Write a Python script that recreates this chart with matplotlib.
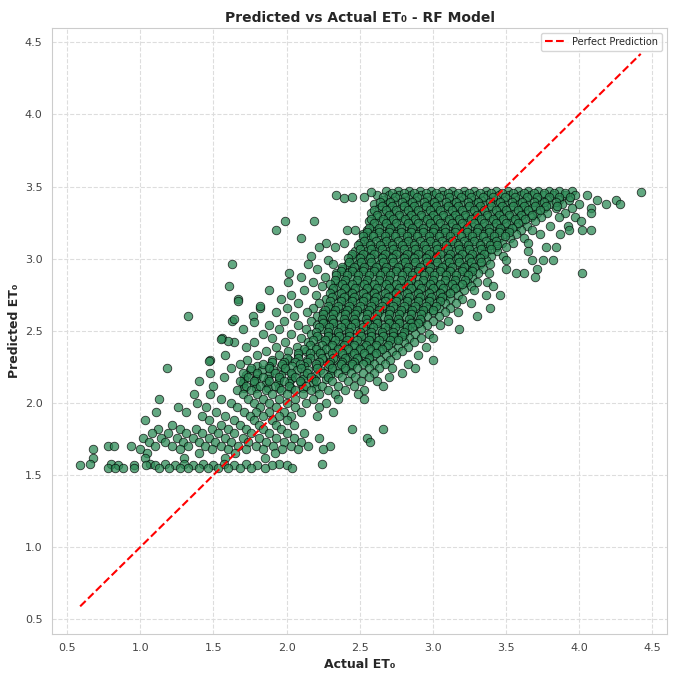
import numpy as np
import matplotlib
matplotlib.use('Agg')
import matplotlib.pyplot as plt
import seaborn as sns

# Predicted ET0 level -> actual ET0 values, row by row
cap_rows = [
    (3.47, [2.68, 2.76, 2.84, 2.91, 2.99, 3.06, 3.13, 3.21, 3.28, 3.36, 3.43, 3.51, 3.58, 3.65, 3.72, 3.79, 3.86, 3.95]),
    (3.44, [2.62, 2.70, 2.77, 2.85, 2.92, 3.00, 3.07, 3.15, 3.22, 3.30, 3.37, 3.45, 3.52, 3.60, 3.67, 3.75, 3.82, 3.90, 3.97, 4.05]),
    (3.41, [2.66, 2.73, 2.81, 2.88, 2.96, 3.03, 3.11, 3.18, 3.26, 3.33, 3.41, 3.48, 3.56, 3.63, 3.71, 3.78, 3.86, 3.93, 4.12, 4.25]),
    (3.38, [2.60, 2.68, 2.75, 2.83, 2.90, 2.98, 3.05, 3.13, 3.20, 3.28, 3.35, 3.43, 3.50, 3.58, 3.65, 3.73, 3.80, 3.88, 4.00, 4.18, 4.28]),
    (3.35, [2.63, 2.71, 2.78, 2.86, 2.93, 3.01, 3.08, 3.16, 3.23, 3.31, 3.38, 3.46, 3.53, 3.61, 3.68, 3.76, 3.84, 3.95, 4.08]),
    (3.32, [2.58, 2.66, 2.73, 2.81, 2.88, 2.96, 3.03, 3.11, 3.18, 3.26, 3.33, 3.41, 3.48, 3.56, 3.63, 3.71, 3.78, 3.90, 4.08]),
    (3.29, [2.62, 2.69, 2.77, 2.84, 2.92, 2.99, 3.07, 3.14, 3.22, 3.29, 3.37, 3.44, 3.52, 3.59, 3.67, 3.74, 3.86, 3.97]),
    (3.26, [1.99, 2.19, 2.56, 2.64, 2.71, 2.79, 2.86, 2.94, 3.01, 3.09, 3.16, 3.24, 3.31, 3.39, 3.46, 3.54, 3.61, 3.70, 4.01]),
    (3.23, [2.59, 2.67, 2.74, 2.82, 2.89, 2.97, 3.04, 3.12, 3.19, 3.27, 3.34, 3.42, 3.49, 3.57, 3.64, 3.80, 3.92]),
    (3.20, [1.93, 2.41, 2.47, 2.55, 2.62, 2.70, 2.77, 2.85, 2.92, 3.00, 3.07, 3.15, 3.22, 3.30, 3.37, 3.45, 3.52, 3.60, 3.68, 3.93, 4.02, 4.08]),
    (3.17, [2.52, 2.59, 2.67, 2.74, 2.82, 2.89, 2.97, 3.04, 3.12, 3.19, 3.27, 3.34, 3.42, 3.49, 3.57, 3.73, 3.87]),
    (3.14, [2.10, 2.55, 2.63, 2.70, 2.78, 2.85, 2.93, 3.00, 3.08, 3.15, 3.23, 3.30, 3.38, 3.45, 3.53, 3.62]),
    (3.11, [2.27, 2.39, 2.50, 2.57, 2.65, 2.72, 2.80, 2.87, 2.95, 3.02, 3.10, 3.17, 3.25, 3.32, 3.40, 3.47, 3.55, 3.65]),
    (3.08, [2.22, 2.33, 2.53, 2.60, 2.68, 2.75, 2.83, 2.90, 2.98, 3.05, 3.13, 3.20, 3.28, 3.35, 3.43, 3.50, 3.77, 3.84]),
]

body_rows = [
    (3.05, [2.47, 2.55, 2.62, 2.70, 2.77, 2.85, 2.92, 3.00, 3.07, 3.15, 3.22, 3.30, 3.37, 3.44, 3.65]),
    (3.02, [2.17, 2.44, 2.51, 2.58, 2.66, 2.73, 2.81, 2.88, 2.96, 3.03, 3.11, 3.18, 3.26, 3.33, 3.40, 3.48]),
    (2.99, [2.28, 2.46, 2.53, 2.61, 2.68, 2.76, 2.83, 2.91, 2.98, 3.06, 3.13, 3.21, 3.28, 3.36, 3.50, 3.68, 3.75, 3.82]),
    (2.96, [1.63, 2.15, 2.32, 2.42, 2.49, 2.57, 2.64, 2.72, 2.79, 2.87, 2.94, 3.02, 3.09, 3.17, 3.24, 3.32, 3.39]),
    (2.93, [2.21, 2.38, 2.45, 2.52, 2.60, 2.67, 2.75, 2.82, 2.90, 2.97, 3.05, 3.12, 3.20, 3.27, 3.34, 3.50, 3.71]),
    (2.90, [2.02, 2.34, 2.41, 2.48, 2.56, 2.63, 2.71, 2.78, 2.86, 2.93, 3.01, 3.08, 3.16, 3.23, 3.31, 3.38, 3.57, 3.62, 4.02]),
    (2.87, [2.10, 2.26, 2.37, 2.44, 2.52, 2.59, 2.67, 2.74, 2.82, 2.89, 2.97, 3.04, 3.12, 3.19, 3.27, 3.70]),
    (2.84, [2.01, 2.18, 2.33, 2.40, 2.48, 2.55, 2.63, 2.70, 2.78, 2.85, 2.93, 3.00, 3.08, 3.15, 3.23, 3.30, 3.37]),
    (2.81, [1.61, 2.24, 2.36, 2.43, 2.51, 2.58, 2.66, 2.73, 2.81, 2.88, 2.96, 3.03, 3.11, 3.18, 3.26, 3.41]),
    (2.78, [1.88, 2.12, 2.31, 2.39, 2.46, 2.54, 2.61, 2.69, 2.76, 2.84, 2.91, 2.99, 3.06, 3.14, 3.21, 3.28]),
    (2.75, [2.03, 2.20, 2.34, 2.42, 2.49, 2.57, 2.64, 2.72, 2.79, 2.87, 2.94, 3.02, 3.09, 3.17, 3.36, 3.46]),
    (2.72, [1.67, 1.96, 2.27, 2.37, 2.45, 2.52, 2.60, 2.67, 2.75, 2.82, 2.90, 2.97, 3.05, 3.12, 3.20]),
    (2.69, [2.08, 2.22, 2.33, 2.41, 2.48, 2.56, 2.63, 2.71, 2.78, 2.86, 2.93, 3.01, 3.08, 3.16, 3.26]),
    (2.66, [1.82, 2.00, 2.18, 2.29, 2.37, 2.44, 2.52, 2.59, 2.67, 2.74, 2.82, 2.89, 2.97, 3.04, 3.12, 3.39]),
    (2.63, [1.93, 2.14, 2.25, 2.33, 2.40, 2.48, 2.55, 2.63, 2.70, 2.78, 2.85, 2.93, 3.00, 3.08, 3.17]),
    (2.60, [1.33, 1.77, 2.05, 2.21, 2.29, 2.36, 2.44, 2.51, 2.59, 2.66, 2.74, 2.81, 2.89, 2.96, 3.04, 3.30]),
    (2.57, [1.63, 1.98, 2.17, 2.25, 2.32, 2.40, 2.47, 2.55, 2.62, 2.70, 2.77, 2.85, 2.92, 3.00, 3.10]),
    (2.54, [1.88, 2.08, 2.21, 2.28, 2.36, 2.43, 2.51, 2.58, 2.66, 2.73, 2.81, 2.88, 2.96, 3.05]),
    (2.51, [1.70, 1.95, 2.13, 2.24, 2.32, 2.39, 2.47, 2.54, 2.62, 2.69, 2.77, 2.84, 2.92, 3.18]),
    (2.48, [1.84, 2.03, 2.17, 2.28, 2.35, 2.43, 2.50, 2.58, 2.65, 2.73, 2.80, 2.88, 2.97]),
    (2.45, [1.56, 1.90, 2.10, 2.22, 2.31, 2.39, 2.46, 2.54, 2.61, 2.69, 2.76, 2.84, 2.92, 3.00]),
    (2.42, [1.64, 1.78, 1.99, 2.15, 2.27, 2.35, 2.42, 2.50, 2.57, 2.65, 2.72, 2.80, 2.87]),
    (2.39, [1.72, 1.93, 2.07, 2.20, 2.31, 2.38, 2.46, 2.53, 2.61, 2.68, 2.76, 2.83, 2.95]),
    (2.36, [1.86, 2.01, 2.13, 2.24, 2.34, 2.42, 2.49, 2.57, 2.64, 2.72, 2.79]),
    (2.33, [1.58, 1.80, 1.95, 2.08, 2.19, 2.29, 2.38, 2.45, 2.53, 2.60, 2.68, 2.75, 2.90]),
    (2.30, [1.48, 1.73, 1.90, 2.02, 2.14, 2.25, 2.33, 2.41, 2.49, 2.56, 2.64, 2.71, 3.00]),
]

# second, staggered pass over the dark core where markers pile up
core_rows = [
    (3.455, [2.72, 2.80, 2.87, 2.95, 3.02, 3.10, 3.17, 3.25, 3.32, 3.40, 3.47, 3.55, 3.62, 3.69, 3.76, 3.83, 3.90]),
    (3.425, [2.66, 2.74, 2.81, 2.89, 2.96, 3.04, 3.11, 3.19, 3.26, 3.34, 3.41, 3.49, 3.56, 3.64, 3.71, 3.79, 3.86, 3.94]),
    (3.395, [2.64, 2.71, 2.79, 2.86, 2.94, 3.01, 3.09, 3.16, 3.24, 3.31, 3.39, 3.46, 3.54, 3.61, 3.69, 3.76, 3.84]),
    (3.365, [2.65, 2.72, 2.80, 2.87, 2.95, 3.02, 3.10, 3.17, 3.25, 3.32, 3.40, 3.47, 3.55, 3.62, 3.70, 3.77, 3.85]),
    (3.335, [2.60, 2.68, 2.75, 2.83, 2.90, 2.98, 3.05, 3.13, 3.20, 3.28, 3.35, 3.43, 3.50, 3.58, 3.65, 3.73]),
    (3.305, [2.62, 2.70, 2.77, 2.85, 2.92, 3.00, 3.07, 3.15, 3.22, 3.30, 3.37, 3.45, 3.52, 3.60, 3.68]),
    (3.275, [2.58, 2.66, 2.73, 2.81, 2.88, 2.96, 3.03, 3.11, 3.18, 3.26, 3.33, 3.41, 3.48, 3.56, 3.63]),
    (3.245, [2.60, 2.68, 2.75, 2.83, 2.90, 2.98, 3.05, 3.13, 3.20, 3.28, 3.35, 3.43, 3.50, 3.58]),
    (3.215, [2.56, 2.63, 2.71, 2.78, 2.86, 2.93, 3.01, 3.08, 3.16, 3.23, 3.31, 3.38, 3.46, 3.54]),
    (3.185, [2.55, 2.63, 2.70, 2.78, 2.85, 2.93, 3.00, 3.08, 3.15, 3.23, 3.30, 3.38, 3.45, 3.52]),
    (3.155, [2.52, 2.59, 2.67, 2.74, 2.82, 2.89, 2.97, 3.04, 3.12, 3.19, 3.27, 3.34, 3.42, 3.49]),
    (3.125, [2.53, 2.61, 2.68, 2.76, 2.83, 2.91, 2.98, 3.06, 3.13, 3.21, 3.28, 3.36, 3.43]),
    (3.095, [2.49, 2.57, 2.64, 2.72, 2.79, 2.87, 2.94, 3.02, 3.09, 3.17, 3.24, 3.32, 3.39, 3.44]),
    (3.065, [2.50, 2.58, 2.65, 2.73, 2.80, 2.88, 2.95, 3.03, 3.10, 3.18, 3.25, 3.33, 3.40]),
    (3.035, [2.45, 2.52, 2.60, 2.67, 2.75, 2.82, 2.90, 2.97, 3.05, 3.12, 3.20, 3.27, 3.35]),
    (3.005, [2.42, 2.50, 2.57, 2.65, 2.72, 2.80, 2.87, 2.95, 3.02, 3.10, 3.17, 3.25, 3.32]),
    (2.975, [2.43, 2.51, 2.58, 2.66, 2.73, 2.81, 2.88, 2.96, 3.03, 3.11, 3.18, 3.26, 3.33]),
    (2.945, [2.38, 2.46, 2.53, 2.61, 2.68, 2.76, 2.83, 2.91, 2.98, 3.06, 3.13, 3.21, 3.28]),
    (2.915, [2.37, 2.45, 2.52, 2.60, 2.67, 2.75, 2.82, 2.90, 2.97, 3.05, 3.12, 3.20, 3.27]),
    (2.885, [2.34, 2.41, 2.49, 2.56, 2.64, 2.71, 2.79, 2.86, 2.94, 3.01, 3.09, 3.16, 3.24]),
    (2.855, [2.33, 2.40, 2.48, 2.55, 2.63, 2.70, 2.78, 2.85, 2.93, 3.00, 3.08, 3.15, 3.22]),
    (2.825, [2.30, 2.38, 2.45, 2.53, 2.60, 2.68, 2.75, 2.83, 2.90, 2.98, 3.05, 3.13, 3.20]),
    (2.795, [2.32, 2.40, 2.47, 2.55, 2.62, 2.70, 2.77, 2.85, 2.92, 3.00, 3.07, 3.15]),
    (2.765, [2.30, 2.37, 2.45, 2.52, 2.60, 2.67, 2.75, 2.82, 2.90, 2.97, 3.05, 3.12]),
    (2.735, [2.31, 2.39, 2.46, 2.54, 2.61, 2.69, 2.76, 2.84, 2.91, 2.99, 3.06]),
    (2.705, [2.30, 2.37, 2.45, 2.52, 2.60, 2.67, 2.75, 2.82, 2.90, 2.97, 3.05]),
    (2.675, [2.28, 2.35, 2.43, 2.50, 2.58, 2.65, 2.73, 2.80, 2.88, 2.95, 3.02]),
    (2.645, [2.26, 2.33, 2.41, 2.48, 2.56, 2.63, 2.71, 2.78, 2.86, 2.93, 3.00]),
    (2.615, [2.25, 2.32, 2.40, 2.47, 2.55, 2.62, 2.70, 2.77, 2.85, 2.92]),
    (2.585, [2.24, 2.31, 2.39, 2.46, 2.54, 2.61, 2.69, 2.76, 2.84, 2.91]),
    (2.555, [2.25, 2.32, 2.40, 2.47, 2.55, 2.62, 2.70, 2.77, 2.85, 2.90]),
    (2.525, [2.22, 2.29, 2.37, 2.44, 2.52, 2.59, 2.67, 2.74, 2.82, 2.86]),
    (2.495, [2.20, 2.28, 2.35, 2.43, 2.50, 2.58, 2.65, 2.73, 2.80]),
    (2.465, [2.21, 2.28, 2.36, 2.43, 2.51, 2.58, 2.66, 2.73, 2.79]),
    (2.435, [2.18, 2.26, 2.33, 2.41, 2.48, 2.56, 2.63, 2.71, 2.76]),
    (2.405, [2.16, 2.24, 2.31, 2.39, 2.46, 2.54, 2.61, 2.69]),
    (2.375, [2.12, 2.20, 2.27, 2.35, 2.42, 2.50, 2.57, 2.65]),
    (2.345, [2.08, 2.16, 2.23, 2.31, 2.38, 2.46, 2.53, 2.61]),
    (2.315, [2.00, 2.08, 2.16, 2.24, 2.32, 2.40, 2.48, 2.56]),
    (2.285, [1.90, 1.98, 2.06, 2.14, 2.22, 2.30, 2.38, 2.46, 2.54]),
    (2.255, [1.80, 1.88, 1.96, 2.04, 2.12, 2.20, 2.28, 2.36, 2.44]),
    (2.225, [1.75, 1.83, 1.91, 1.99, 2.07, 2.15, 2.23, 2.31, 2.40]),
    (2.195, [1.72, 1.80, 1.88, 1.96, 2.04, 2.12, 2.20, 2.30]),
    (2.165, [1.71, 1.79, 1.87, 1.95, 2.03, 2.11, 2.19, 2.27]),
    (2.135, [1.70, 1.78, 1.86, 1.94, 2.02, 2.10, 2.18]),
    (2.105, [1.71, 1.79, 1.87, 1.95, 2.03, 2.11, 2.20]),
]

lower_rows = [
    (2.27, [1.68, 1.84, 1.97, 2.09, 2.20, 2.29, 2.37, 2.45, 2.52, 2.60, 2.67, 2.83]),
    (2.24, [1.18, 1.62, 1.76, 1.88, 1.99, 2.10, 2.21, 2.31, 2.40, 2.48, 2.56, 2.63, 2.72, 2.88]),
    (2.21, [1.48, 1.70, 1.80, 1.92, 2.03, 2.14, 2.25, 2.35, 2.44, 2.52, 2.60, 2.79]),
    (2.18, [1.57, 1.74, 1.84, 1.95, 2.06, 2.17, 2.28, 2.38, 2.47, 2.56, 2.70]),
    (2.15, [1.40, 1.68, 1.78, 1.88, 1.98, 2.09, 2.20, 2.31, 2.42, 2.51, 2.62]),
    (2.12, [1.50, 1.72, 1.82, 1.92, 2.02, 2.13, 2.24, 2.35, 2.46, 2.66]),
    (2.09, [1.66, 1.76, 1.86, 1.96, 2.06, 2.17, 2.28, 2.40, 2.53]),
    (2.06, [1.37, 1.48, 1.70, 1.80, 1.90, 2.00, 2.11, 2.22, 2.33, 2.49]),
    (2.03, [1.13, 1.55, 1.74, 1.84, 1.95, 2.06, 2.18, 2.35, 2.53]),
    (2.00, [1.39, 1.62, 1.78, 1.88, 2.00, 2.13, 2.27]),
    (1.97, [1.26, 1.45, 1.66, 1.82, 1.93, 2.06, 2.22]),
    (1.94, [1.11, 1.31, 1.52, 1.71, 1.79, 1.88, 1.98, 2.10, 2.32]),
    (1.91, [1.42, 1.58, 1.75, 1.84, 1.95, 2.03, 2.21]),
    (1.88, [1.03, 1.47, 1.64, 1.78, 1.90, 2.00]),
    (1.85, [1.22, 1.55, 1.68, 1.81, 1.93, 2.05]),
    (1.82, [1.12, 1.27, 1.38, 1.49, 1.60, 1.72, 1.84, 1.96, 2.45, 2.66]),
    (1.79, [1.08, 1.19, 1.31, 1.42, 1.53, 1.64, 1.76, 1.88, 2.00, 2.12]),
    (1.76, [1.02, 1.14, 1.25, 1.36, 1.47, 1.58, 1.70, 1.81, 1.93, 2.05, 2.22, 2.55]),
    (1.73, [1.06, 1.17, 1.29, 1.40, 1.51, 1.62, 1.74, 1.86, 1.98, 2.10, 2.57]),
    (1.70, [0.78, 0.82, 0.94, 1.10, 1.22, 1.33, 1.44, 1.55, 1.67, 1.79, 1.91, 2.03, 2.15, 2.30]),
    (1.68, [0.68, 1.00, 1.27, 1.49, 1.60, 1.72, 1.84, 1.97, 2.08, 2.25]),
    (1.65, [1.05, 1.40, 1.65, 1.92]),
    (1.62, [0.68, 1.03, 1.30, 1.58, 1.85]),
]

bottom_rows = [
    (1.58, [0.66, 0.80, 1.07, 1.17, 1.30, 1.43, 1.57, 1.72, 1.95, 2.24]),
    (1.57, [0.59, 0.85, 0.96, 1.04, 1.10, 1.24, 1.36, 1.50, 1.64, 1.80, 1.90, 2.00]),
    (1.55, [0.78, 0.83, 0.88, 0.96, 1.13, 1.20, 1.27, 1.33, 1.40, 1.46, 1.53, 1.60, 1.68, 1.76, 1.85, 2.04]),
]

# a few loose points off the main rows
extra_actual = [2.34, 2.39, 2.45, 2.53, 2.58, 4.42, 1.64, 1.67, 1.78, 1.82, 1.47, 1.60, 1.55]
extra_predicted = [3.44, 3.42, 3.43, 3.43, 3.46, 3.46, 2.58, 2.71, 2.56, 2.67, 2.29, 2.43, 2.44]

actual = []
predicted = []
for rows in (cap_rows, body_rows, core_rows, lower_rows, bottom_rows):
    for p, xs in rows:
        actual += xs
        predicted += [p] * len(xs)
actual = np.array(actual + extra_actual)
predicted = np.array(predicted + extra_predicted)

sns.set_style('whitegrid')

fig = plt.figure(figsize=(6.8, 6.8), dpi=100)
ax = fig.add_axes([0.077, 0.068, 0.904, 0.891])

ax.scatter(actual, predicted, s=38, c='#2e8b57', alpha=0.75,
           edgecolors='black', linewidths=0.6, zorder=2)

lo, hi = actual.min(), actual.max()
ax.plot([lo, hi], [lo, hi], 'r--', lw=1.5, label='Perfect Prediction', zorder=3)

ax.set_xlim(0.40, 4.60)
ax.set_ylim(0.40, 4.60)
ax.set_xticks([0.5, 1.0, 1.5, 2.0, 2.5, 3.0, 3.5, 4.0, 4.5])
ax.set_yticks([0.5, 1.0, 1.5, 2.0, 2.5, 3.0, 3.5, 4.0, 4.5])
ax.tick_params(labelsize=8, colors='#444444')
ax.grid(True, linestyle='--', color='#dddddd', linewidth=0.8)
for sp in ax.spines.values():
    sp.set_color('#cccccc')

ax.set_xlabel('Actual ET\u2080', fontsize=9, fontweight='bold', labelpad=3)
ax.set_ylabel('Predicted ET\u2080', fontsize=9, fontweight='bold', labelpad=3)
ax.set_title('Predicted vs Actual ET\u2080 - RF Model', fontsize=10, fontweight='bold', pad=4)

leg = ax.legend(loc='upper right', fontsize=7, frameon=True)
leg.get_frame().set_edgecolor('#cccccc')

fig.savefig('out.png', dpi=100)
